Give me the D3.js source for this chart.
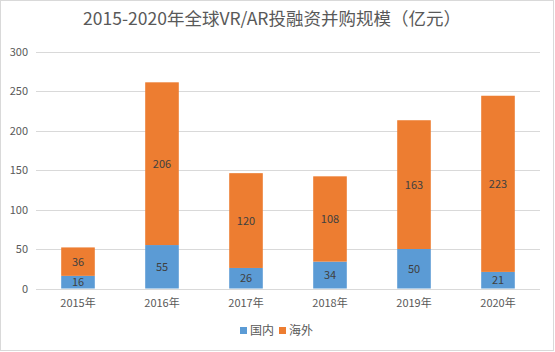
<!DOCTYPE html>
<html>
<head>
<meta charset="UTF-8">
<title>VR/AR投融资并购规模</title>
<style>
  body { margin: 0; background: #fff; }
  text { font-family: "Noto Sans CJK SC", "Microsoft YaHei", sans-serif; }
</style>
</head>
<body>
<div id="chart"></div>
<script src="https://cdn.jsdelivr.net/npm/d3@7"></script>
<script>
// 数据
const years = ["2015年", "2016年", "2017年", "2018年", "2019年", "2020年"];
const domestic = [16, 55, 26, 34, 50, 21];   // 国内
const overseas = [36, 206, 120, 108, 163, 223]; // 海外
const yTicks = [0, 50, 100, 150, 200, 250, 300];
const seriesNames = ["国内", "海外"];
const colors = ["#5B9BD5", "#ED7D31"];

const W = 555, H = 352;
const svg = d3.select("#chart").append("svg")
    .attr("width", W).attr("height", H);

// 外框
svg.append("rect")
    .attr("x", 0.5).attr("y", 0.5)
    .attr("width", 553).attr("height", 350)
    .attr("fill", "#fff").attr("stroke", "#d9d9d9");

// 标题
svg.append("text")
    .attr("x", 272).attr("y", 25)
    .attr("text-anchor", "middle")
    .attr("font-size", "17.5px").attr("fill", "#595959")
    .text("2015-2020年全球VR/AR投融资并购规模（亿元）");

const x = d3.scaleBand().domain(years).range([36, 540]).paddingInner(0.6).paddingOuter(0.3);
const y = d3.scaleLinear().domain([0, 300]).range([288.5, 51.5]);

// 网格线
svg.selectAll("line.grid").data(yTicks).enter().append("line")
    .attr("x1", 36).attr("x2", 540)
    .attr("y1", d => Math.round(y(d)) + 0.5).attr("y2", d => Math.round(y(d)) + 0.5)
    .attr("stroke", "#d9d9d9").attr("stroke-width", 1);

// y轴标签
svg.selectAll("text.ytick").data(yTicks).enter().append("text")
    .attr("x", 28).attr("y", d => y(d) + 4)
    .attr("text-anchor", "end")
    .attr("font-size", "11px").attr("fill", "#595959")
    .text(d => d);

// 堆叠
const table = years.map((yr, i) => ({ year: yr, "国内": domestic[i], "海外": overseas[i] }));
const stacked = d3.stack().keys(seriesNames)(table);

const groups = svg.selectAll("g.series").data(stacked).enter().append("g")
    .attr("fill", (d, i) => colors[i]);

groups.selectAll("rect").data(d => d).enter().append("rect")
    .attr("x", d => x(d.data.year))
    .attr("width", x.bandwidth())
    .attr("y", d => y(d[1]))
    .attr("height", d => y(d[0]) - y(d[1]));

groups.selectAll("text").data(d => d).enter().append("text")
    .attr("x", d => x(d.data.year) + x.bandwidth() / 2)
    .attr("y", d => (y(d[0]) + y(d[1])) / 2 + 4)
    .attr("text-anchor", "middle")
    .attr("font-size", "11px").attr("fill", "#404040")
    .text(d => d[1] - d[0]);

// x轴标签
svg.selectAll("text.xtick").data(years).enter().append("text")
    .attr("x", d => x(d) + x.bandwidth() / 2)
    .attr("y", 307)
    .attr("text-anchor", "middle")
    .attr("font-size", "11px").attr("fill", "#595959")
    .text(d => d);

// 图例
const legend = svg.selectAll("g.legend").data(seriesNames).enter().append("g")
    .attr("transform", (d, i) => `translate(${240 + i * 39},0)`);
legend.append("rect")
    .attr("x", 0).attr("y", 327).attr("width", 7).attr("height", 7)
    .attr("fill", (d, i) => colors[i]);
legend.append("text")
    .attr("x", 10).attr("y", 335)
    .attr("font-size", "12px").attr("fill", "#595959")
    .text(d => d);
</script>
</body>
</html>
